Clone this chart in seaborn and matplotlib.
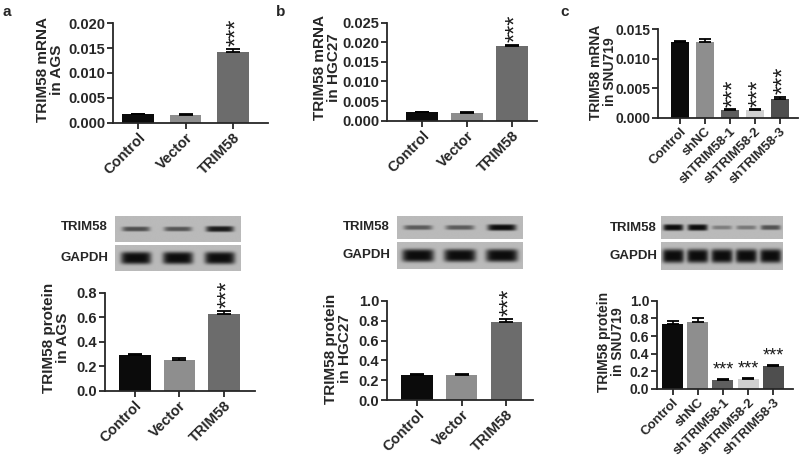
import matplotlib
matplotlib.use("Agg")
import numpy as np
import pandas as pd
import seaborn as sns
import matplotlib.pyplot as plt
from matplotlib.transforms import ScaledTranslation

W, H = 800, 459

# groups
oe_groups = ["Control", "Vector", "TRIM58"]
kd_groups = ["Control", "shNC", "shTRIM58-1", "shTRIM58-2", "shTRIM58-3"]
oe_colors = ["#0b0b0b", "#8e8e8e", "#6c6c6c"]
kd_colors = ["#0b0b0b", "#8e8e8e", "#5e5e5e", "#d0d0d0", "#4e4e4e"]

# qPCR, relative mRNA
ags_mrna = [0.0017, 0.0016, 0.0143]
ags_mrna_err = [0.0001, 0.0001, 0.0006]
hgc_mrna = [0.0021, 0.0020, 0.0191]
hgc_mrna_err = [0.0001, 0.0001, 0.0002]
snu_mrna = [0.0128, 0.0129, 0.0013, 0.0013, 0.0032]
snu_mrna_err = [0.0002, 0.0004, 0.0001, 0.0001, 0.0003]

# western blot quantification
ags_prot = [0.290, 0.253, 0.625]
ags_prot_err = [0.012, 0.010, 0.027]
hgc_prot = [0.249, 0.256, 0.788]
hgc_prot_err = [0.010, 0.010, 0.035]
snu_prot = [0.735, 0.762, 0.102, 0.113, 0.257]
snu_prot_err = [0.030, 0.040, 0.006, 0.006, 0.010]

# band strength in the blot strips (0 = none, 1 = saturated)
ags_trim58_band = [0.62, 0.58, 0.92]
ags_gapdh_band = [1.0, 1.0, 1.0]
hgc_trim58_band = [0.55, 0.55, 1.0]
hgc_gapdh_band = [1.0, 1.0, 1.0]
snu_trim58_band = [1.0, 1.0, 0.35, 0.38, 0.6]
snu_gapdh_band = [1.0, 1.0, 1.0, 1.0, 1.0]


def px_rect(left, top, right, bottom):
    return [left / W, 1 - bottom / H, (right - left) / W, (bottom - top) / H]


def bar_panel(fig, rect, groups, values, errs, colors, ylim, step, fmt,
              xlim, width, stars, star_vertical, fs=10.5, tick_fs=10.5,
              cap=5):
    ax = fig.add_axes(px_rect(*rect))
    df = pd.DataFrame({"group": groups, "value": values})
    sns.barplot(data=df, x="group", y="value", hue="group", order=groups,
                palette=colors, width=width, errorbar=None, legend=False,
                linewidth=0, ax=ax)
    ax.errorbar(range(len(groups)), values, yerr=[np.zeros(len(errs)), errs],
                fmt="none", ecolor="black", elinewidth=1.2, capsize=cap,
                capthick=1.3)
    ax.set_xlim(*xlim)
    ax.set_ylim(*ylim)
    ax.set_yticks(np.arange(0, ylim[1] + step / 2, step))
    ax.set_yticklabels([fmt % t for t in ax.get_yticks()], fontsize=fs,
                       fontweight="bold")
    ax.set_xticks(range(len(groups)))
    ax.set_xticklabels(groups, rotation=45, ha="right", rotation_mode="anchor",
                       fontsize=tick_fs, fontweight="bold")
    ax.set_xlabel("")
    ax.set_ylabel("")
    for s in ["top", "right"]:
        ax.spines[s].set_visible(False)
    for s in ["left", "bottom"]:
        ax.spines[s].set_linewidth(1.3)
    ax.tick_params(direction="out", length=4, width=1.3, pad=1.5)
    pad = ylim[1] * 0.03
    shift = ScaledTranslation(4 / 100, 0, fig.dpi_scale_trans)
    for i in stars:
        top = values[i] + errs[i] + pad
        if star_vertical:
            ax.text(i, top, "***", rotation=90, ha="center", va="bottom",
                    fontsize=17, fontweight="normal", color="#1a1a1a",
                    transform=ax.transData + shift)
        else:
            ax.text(i, values[i] + errs[i] + ylim[1] * 0.01, "***",
                    ha="center", va="bottom", fontsize=13,
                    fontweight="normal", color="#1a1a1a")
    return ax


def blot_strip(fig, rect, strength, thick, halfwidth):
    ax = fig.add_axes(px_rect(*rect))
    n = len(strength)
    xs = np.linspace(-0.5, n - 0.5, 400)
    ys = np.linspace(0, 1, 60)
    X, Y = np.meshgrid(xs, ys)
    img = np.full(X.shape, 0.73)
    for i, s in enumerate(strength):
        horiz = np.exp(-((X - i) / halfwidth) ** 6)
        vert = np.exp(-((Y - 0.5) / (thick * (0.45 + 0.55 * s))) ** 4)
        img -= s * 0.68 * horiz * vert
    ax.imshow(np.clip(img, 0, 1), cmap="gray", vmin=0, vmax=1,
              extent=(-0.5, n - 0.5, 0, 1), aspect="auto",
              interpolation="bilinear")
    ax.set_axis_off()
    return ax


sns.set_style("ticks")
plt.rcParams["font.family"] = ["Liberation Sans", "DejaVu Sans"]
plt.rcParams["font.weight"] = "bold"

fig = plt.figure(figsize=(W / 100, H / 100), dpi=100)

# top row: mRNA
bar_panel(fig, (113, 23.3, 268, 122.7), oe_groups, ags_mrna, ags_mrna_err,
          oe_colors, (0, 0.020), 0.005, "%.3f", (-0.53, 2.74), 0.67, [2], True)
bar_panel(fig, (387, 22.7, 537, 120.7), oe_groups, hgc_mrna, hgc_mrna_err,
          oe_colors, (0, 0.025), 0.005, "%.3f", (-0.78, 2.56), 0.70, [2], True)
bar_panel(fig, (658, 29.3, 798, 117.7), kd_groups, snu_mrna, snu_mrna_err,
          kd_colors, (0, 0.015), 0.005, "%.3f", (-0.88, 4.73), 0.74,
          [2, 3, 4], True, fs=10, tick_fs=9.5, cap=4)

# bottom row: protein
bar_panel(fig, (105, 292.7, 255, 390.7), oe_groups, ags_prot, ags_prot_err,
          oe_colors, (0, 0.8), 0.2, "%.1f", (-0.67, 2.7), 0.71, [2], True)
bar_panel(fig, (387, 301, 533, 400), oe_groups, hgc_prot, hgc_prot_err,
          oe_colors, (0, 1.0), 0.2, "%.1f", (-0.67, 2.6), 0.70, [2], True)
bar_panel(fig, (657, 300.7, 793, 389), kd_groups, snu_prot, snu_prot_err,
          kd_colors, (0, 1.0), 0.2, "%.1f", (-0.615, 4.78), 0.83,
          [2, 3, 4], False, fs=10, tick_fs=9.5, cap=4)

# y labels
ylabels = [
    ("TRIM58 mRNA\nin AGS", 50, 70, 11),
    ("TRIM58 mRNA\nin HGC27", 327, 68, 11),
    ("TRIM58 mRNA\nin SNU719", 603, 72, 10),
    ("TRIM58 protein\nin AGS", 56, 338, 11),
    ("TRIM58 protein\nin HGC27", 338, 349, 11),
    ("TRIM58 protein\nin SNU719", 611, 342, 10),
]
for txt, x, y, fs in ylabels:
    fig.text(x / W, 1 - y / H, txt, rotation=90, ha="center", va="center",
             fontsize=fs, fontweight="bold", linespacing=1.0)

# blots
blot_strip(fig, (115, 216, 240, 242), ags_trim58_band, 0.12, 0.33)
blot_strip(fig, (115, 245, 240, 271), ags_gapdh_band, 0.24, 0.36)
blot_strip(fig, (397, 216, 522, 239), hgc_trim58_band, 0.14, 0.34)
blot_strip(fig, (397, 242, 522, 269), hgc_gapdh_band, 0.24, 0.38)
blot_strip(fig, (661, 216, 783, 239), snu_trim58_band, 0.14, 0.41)
blot_strip(fig, (661, 242, 783, 270), snu_gapdh_band, 0.25, 0.44)

blot_labels = [
    ("TRIM58", 108, 227), ("GAPDH", 108, 258),
    ("TRIM58", 390, 227), ("GAPDH", 390, 255),
    ("TRIM58", 657, 228), ("GAPDH", 657, 256),
]
for txt, x, y in blot_labels:
    fig.text(x / W, 1 - y / H, txt, ha="right", va="center", fontsize=9.5,
             fontweight="bold")

# panel letters
for letter, x, y in [("a", 7, 12), ("b", 281, 12), ("c", 565, 12)]:
    fig.text(x / W, 1 - y / H, letter, ha="center", va="center", fontsize=11,
             fontweight="bold")

fig.savefig("out.png", dpi=100, facecolor="white")
